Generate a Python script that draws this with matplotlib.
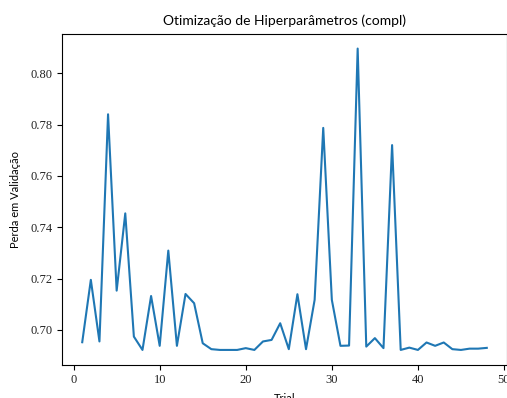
import matplotlib
matplotlib.use("Agg")
import matplotlib.pyplot as plt

# valores
trials = list(range(1, 49))
perda = [
    0.6952, 0.7195, 0.6955, 0.7840, 0.7153, 0.7454, 0.6974, 0.6922,
    0.7132, 0.6938, 0.7309, 0.6938, 0.7140, 0.7104, 0.6948, 0.6925,
    0.6922, 0.6922, 0.6922, 0.6929, 0.6922, 0.6955, 0.6961, 0.7026,
    0.6925, 0.7139, 0.6925, 0.7117, 0.7787, 0.7117, 0.6938, 0.6939,
    0.8096, 0.6935, 0.6968, 0.6929, 0.7720, 0.6922, 0.6931, 0.6922,
    0.6951, 0.6938, 0.6951, 0.6925, 0.6922, 0.6927, 0.6927, 0.6930,
]
yticks = [0.70, 0.72, 0.74, 0.76, 0.78, 0.80]

plt.rcParams['font.family'] = ['Lato', 'DejaVu Sans']

fig = plt.figure(figsize=(5.07, 3.98), dpi=100)
ax = fig.add_axes([62 / 507, 33 / 398, 445 / 507, 331.5 / 398])

ax.plot(trials, perda, color="tab:blue", linewidth=1.5)

ax.set_title("Otimização de Hiperparâmetros (compl)", fontsize=10, pad=6)
ax.set_xlabel("Trial", fontsize=8, labelpad=5)
ax.set_ylabel("Perda em Validação", fontsize=8, labelpad=7)
ax.set_yticks(yticks)
ax.set_yticklabels([f"{v:.2f}" for v in yticks])
ax.set_xticks([0, 10, 20, 30, 40, 50])
ax.tick_params(pad=3)
for lab in ax.get_xticklabels() + ax.get_yticklabels():
    lab.set_fontfamily("Liberation Serif")
    lab.set_fontsize(9)
    lab.set_color("#222222")

fig.savefig("out.png", dpi=100)
